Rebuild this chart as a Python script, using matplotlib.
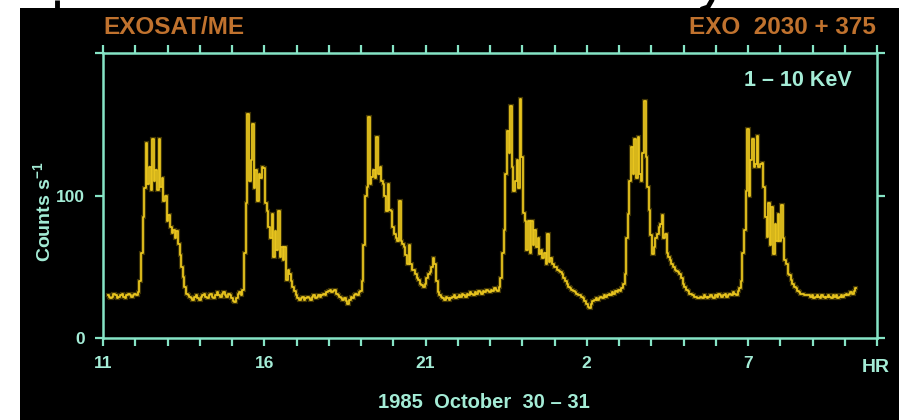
import numpy as np
import matplotlib
matplotlib.use("Agg")
import matplotlib.pyplot as plt
from matplotlib.patches import Rectangle
from matplotlib.lines import Line2D
from matplotlib.ticker import FixedLocator, FixedFormatter

plt.rcParams['font.family'] = ['Liberation Sans', 'DejaVu Sans']
plt.rcParams['mathtext.fontset'] = 'custom'
plt.rcParams['mathtext.rm'] = 'Liberation Sans:bold'
plt.rcParams['mathtext.it'] = 'Liberation Sans:bold'
plt.rcParams['mathtext.bf'] = 'Liberation Sans:bold'

# ---------------- data (counts per 0.05 h bin) ----------------
START_HR = 11.15
BIN_HR = 0.05

base1 = [30, 29, 28, 29, 31, 30, 28, 29, 30, 31, 29, 28, 30, 31, 30, 29, 30, 31, 30, 32]
burst1 = [40, 60, 85, 105, 137, 108, 120, 104, 140, 110, 118, 104, 140, 106, 112, 96, 100, 82,
          86, 78, 74, 76, 70, 75, 66, 58, 50, 43, 36, 31]
base2 = [30, 29, 28, 27, 29, 30, 28, 27, 29, 30, 31, 29, 28, 30, 31, 29, 28, 30, 32, 30,
         29, 31, 32, 30, 29, 31, 30, 28, 26, 25, 28, 31, 32, 30]
burst2 = [34, 60, 95, 157, 110, 125, 150, 105, 118, 96, 115, 112, 120, 119, 95, 89, 78, 70,
          87, 57, 75, 62, 89, 57, 64, 55, 64, 41, 48, 45, 40, 36, 33, 30]
base3 = [28, 27, 28, 29, 27, 28, 29, 28, 27, 29, 30, 28, 29, 30, 29,
         30, 31, 30, 32, 33, 34, 32, 33, 34, 31, 30, 29,
         28, 27, 28, 26, 24, 27, 29, 28, 30,
         31, 30, 32, 33]
burst3 = [40, 65, 100, 106, 155, 108, 113, 118, 112, 141, 115, 120, 110, 108, 100, 89, 108, 90,
          89, 78, 73, 70, 68, 96, 68, 66, 64, 58, 52, 65, 52, 48, 48, 45, 42, 41, 38, 37, 36,
          38, 42, 45, 46, 50, 56, 52, 40, 32, 30]
base4 = [29, 28, 27, 29, 28, 27, 28, 29, 30, 28, 29, 30, 29, 31, 30, 29, 31, 30, 32, 31,
         30, 32, 31, 33, 32, 31, 33, 32, 34, 33, 32, 34, 33, 35, 34, 33, 36]
burst4 = [42, 60, 76, 115, 145, 130, 163, 120, 103, 110, 125, 105, 168, 127, 88, 82, 62, 82,
          60, 82, 65, 76, 64, 70, 59, 62, 56, 60, 52, 73, 53, 56, 52, 50, 50, 48, 47, 46, 45,
          42, 40, 38, 36, 35, 34, 33, 32, 31, 30, 30]
base5 = [29, 28, 26, 24, 22, 21, 24, 26, 27, 28, 27, 28, 29, 28, 30, 29, 30, 31, 30, 32,
         31, 33, 32, 34, 33, 35, 38]
burst5 = [45, 70, 87, 110, 134, 115, 140, 112, 141, 115, 110, 130, 166, 127, 106, 90, 72, 59,
          64, 70, 73, 78, 80, 86, 70, 73, 60, 57, 55, 52, 50, 48, 47, 46, 45, 42, 38, 36, 34,
          33, 31, 31, 30, 29, 29, 28]
base6 = [28, 29, 28, 30, 29, 28, 29, 30, 29, 28, 30, 29, 31, 30, 29, 30, 31, 29, 30, 31,
         30, 32, 31, 30, 33, 35]
burst6 = [40, 60, 76, 103, 147, 100, 125, 140, 120, 122, 142, 120, 122, 123, 106, 85, 71, 95,
          65, 92, 59, 80, 68, 87, 68, 93, 70, 55, 52, 45, 44, 41, 38, 36, 35, 33, 32, 31, 31,
          30, 30, 30]
base7 = [30, 29, 30, 28, 29, 30, 29, 28, 30, 29, 28, 29, 30, 29, 28, 30, 29, 30, 28, 29,
         30, 29, 30, 31, 30, 31, 32, 31, 33, 35]

segments = [base1, burst1, base2, burst2, base3, burst3, base4, burst4,
            base5, burst5, base6, burst6, base7]

xtick_hours = [11, 16, 21, 26, 31]
xtick_labels = ['11', '16', '21', '2', '7']
ytick_values = [0, 100, 200]
ytick_labels = ['0', '100', '']

# ---------------- styling ----------------
BG = 'black'
FRAME = '#86e4c6'
LABEL = '#a4ecd6'
ORANGE = '#c0722e'
YELLOW = '#e8c41e'

counts = np.concatenate([np.asarray(s, dtype=float) for s in segments])
hours = START_HR + BIN_HR * np.arange(counts.size)

W, H = 899, 420
fig = plt.figure(figsize=(W / 100, H / 100), dpi=100)
fig.patch.set_facecolor('white')
fig.add_artist(Rectangle((20 / W, 0), (W - 20) / W, (H - 8) / H,
                         transform=fig.transFigure, facecolor=BG,
                         edgecolor='none', zorder=-10))

# small dark fragments of a cut-off heading above the picture (decoration only)
fig.add_artist(Line2D([57 / W, 57 / W], [1.0, 1 - 10 / H], transform=fig.transFigure,
                      color='black', lw=3.5, solid_capstyle='butt'))
fig.add_artist(Line2D([712 / W, 708 / W, 702 / W], [1.0, 1 - 7 / H, 1 - 9 / H],
                      transform=fig.transFigure, color='black', lw=3.5,
                      solid_capstyle='round'))

ax = fig.add_axes([103 / W, 1 - 338 / H, (877 - 103) / W, (338 - 53) / H])
ax.set_facecolor(BG)

ax.plot(hours, counts, drawstyle='steps-mid', color='#b89a10', lw=3.0, alpha=0.35,
        solid_joinstyle='miter')
ax.plot(hours, counts, drawstyle='steps-mid', color=YELLOW, lw=1.3)

ax.set_xlim(11, 35)
ax.set_ylim(0, 200)

ax.xaxis.set_major_locator(FixedLocator(xtick_hours))
ax.xaxis.set_major_formatter(FixedFormatter(xtick_labels))
ax.xaxis.set_minor_locator(FixedLocator(np.arange(11, 36, 1)))
ax.yaxis.set_major_locator(FixedLocator(ytick_values))
ax.yaxis.set_major_formatter(FixedFormatter(ytick_labels))

for sp in ax.spines.values():
    sp.set_color(FRAME)
    sp.set_linewidth(1.8)

ax.tick_params(which='both', direction='out', length=6, width=1.6, color=FRAME,
               top=True, right=True, labeltop=False, labelright=False)
ax.tick_params(axis='x', which='major', labelsize=12.5, labelcolor=LABEL, pad=7)
ax.tick_params(axis='y', which='major', labelsize=12.5, labelcolor=LABEL, pad=7)
for lab in ax.get_xticklabels() + ax.get_yticklabels():
    lab.set_fontweight('bold')

fig.text(876 / W, 1 - 368 / H, 'HR', ha='center', va='center', color=LABEL,
         fontsize=14, fontweight='bold')
fig.text(484 / W, 1 - 403 / H, '1985  October  30 \u2013 31', ha='center', va='center',
         color=LABEL, fontsize=14.5, fontweight='bold')
fig.text(43 / W, 1 - 212 / H, 'Counts s$^{-1}$', rotation=90, ha='center', va='center',
         color=LABEL, fontsize=14, fontweight='bold')
fig.text(852 / W, 1 - 81 / H, '1 \u2013 10 KeV', ha='right', va='center', color=LABEL,
         fontsize=15.5, fontweight='bold')
fig.text(103 / W, 1 - 27 / H, 'EXOSAT/ME', ha='left', va='center', color=ORANGE,
         fontsize=17.5, fontweight='bold')
fig.text(876 / W, 1 - 27 / H, 'EXO  2030 + 375', ha='right', va='center', color=ORANGE,
         fontsize=17.5, fontweight='bold')

fig.savefig('out.png', dpi=100, facecolor=fig.get_facecolor())
